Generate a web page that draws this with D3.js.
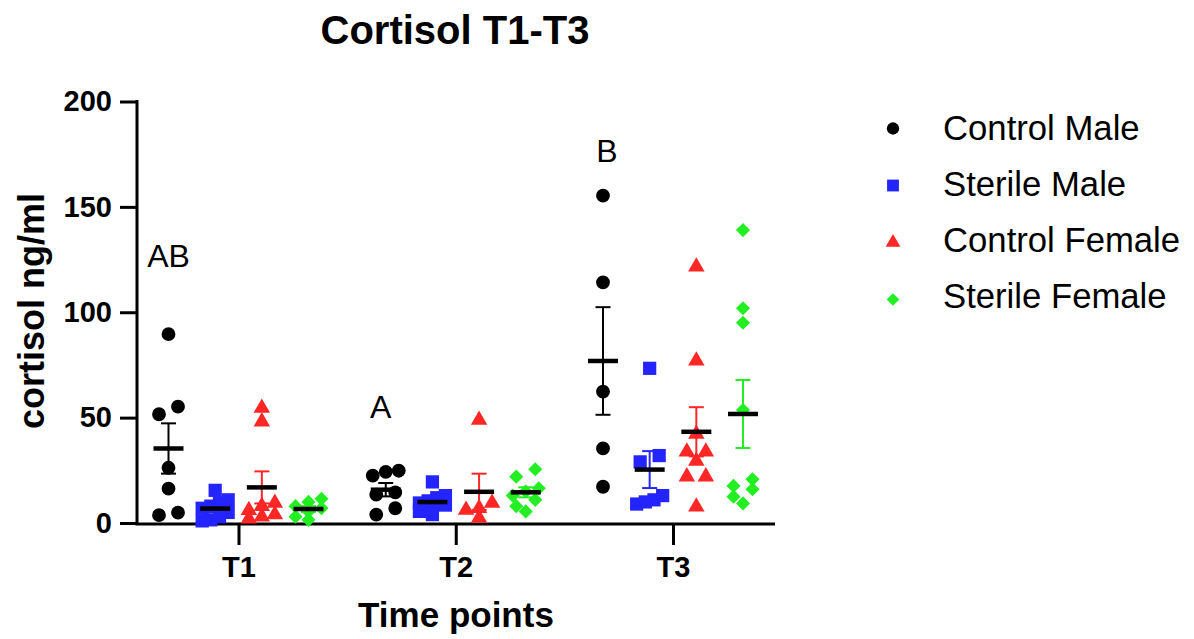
<!DOCTYPE html>
<html>
<head>
<meta charset="utf-8">
<script src="https://cdn.jsdelivr.net/npm/d3@7"></script>
<style>
  html, body { margin: 0; padding: 0; background: #fff; }
  svg { display: block; }
  text { font-family: "Liberation Sans", Arial, sans-serif; fill: #000; }
</style>
</head>
<body>
<svg id="chart" width="1194" height="639"></svg>
<script>
// ---------------- data ----------------
const timePoints = ["T1", "T2", "T3"];
const seriesNames = ["Control Male", "Sterile Male", "Control Female", "Sterile Female"];
const yTicks = [0, 50, 100, 150, 200];

// values per time point (T1, T2, T3), cortisol ng/ml
const controlMale = [
  [89.6, 55.2, 51.6, 26.2, 16.3, 4.9, 3.7],
  [24.8, 24.3, 22.5, 14.5, 13.5, 7, 4],
  [155.3, 114.2, 62.3, 35.4, 17.2]
];
const sterileMale = [
  [15.5, 11, 9.5, 8, 7, 5, 3, 1.5, 1],
  [19.5, 13, 12, 10.5, 9.5, 8.5, 7, 5.5, 4],
  [73.4, 32, 29, 13, 11, 10, 9]
];
const controlFemale = [
  [54.6, 48.1, 9.5, 8, 6, 4, 3, 2],
  [48.9, 9.5, 7, 6.2, 2.4],
  [121.6, 77, 42.2, 33.8, 33.8, 29.4, 22, 22, 7.7]
];
const sterileFemale = [
  [11.5, 10, 8, 7, 5.5, 3, 1.5],
  [25.5, 22, 16.5, 15, 13, 11, 8, 5.5],
  [139, 101.9, 95, 53.6, 20.7, 17.6, 16, 12.5, 9.3]
];
const annotationLabels = ["AB", "A", "B"];
const annotationValues = [121.5, 49.8, 171.3];

// ---------------- styles ----------------
const seriesColors = ["#000000", "#2424ff", "#ff2626", "#22ee22"];
const seriesSymbols = [d3.symbolCircle, d3.symbolSquare, d3.symbolTriangle, d3.symbolSquare];
const seriesSizes = [150, 175, 118, 100];
const seriesRotate = [0, 0, 0, 45];
const allSeries = [controlMale, sterileMale, controlFemale, sterileFemale];

const svg = d3.select("#chart");
svg.append("rect").attr("width", 1194).attr("height", 639).attr("fill", "#fff");

const y = d3.scaleLinear().domain([0, 200]).range([523, 101.5]);
const x = d3.scalePoint().domain(timePoints).range([238.5, 673]);
const xs = d3.scalePoint().domain(seriesNames).range([-70, 70]);

// ---------- axes ----------
const yAxis = svg.append("g")
  .attr("transform", "translate(137,0)")
  .call(d3.axisLeft(y).tickValues(yTicks).tickSize(17).tickPadding(8).tickFormat(d3.format("d")));
yAxis.select(".domain").remove();
yAxis.selectAll(".tick line").attr("stroke", "#000").attr("stroke-width", 3);
yAxis.selectAll(".tick text")
  .attr("font-family", '"Liberation Sans", Arial, sans-serif')
  .attr("font-weight", "bold").attr("font-size", 29).attr("fill", "#000");

svg.append("line").attr("x1", 137).attr("x2", 137).attr("y1", 100).attr("y2", 524.5)
  .attr("stroke", "#000").attr("stroke-width", 3);

const xAxis = svg.append("g")
  .attr("transform", "translate(0,524)")
  .call(d3.axisBottom(x).tickSize(21).tickPadding(11));
xAxis.select(".domain").remove();
xAxis.selectAll(".tick line").attr("stroke", "#000").attr("stroke-width", 3);
xAxis.selectAll(".tick text")
  .attr("font-family", '"Liberation Sans", Arial, sans-serif')
  .attr("font-weight", "bold").attr("font-size", 29).attr("fill", "#000");

svg.append("line").attr("x1", 135.5).attr("x2", 775).attr("y1", 524).attr("y2", 524)
  .attr("stroke", "#000").attr("stroke-width", 3);

// ---------- titles ----------
svg.append("text").attr("x", 455).attr("y", 44).attr("text-anchor", "middle")
  .attr("font-weight", "bold").attr("font-size", 40).text("Cortisol T1-T3");
svg.append("text").attr("x", 456).attr("y", 627).attr("text-anchor", "middle")
  .attr("font-weight", "bold").attr("font-size", 35).text("Time points");
svg.append("text").attr("transform", "translate(44,311) rotate(-90)").attr("text-anchor", "middle")
  .attr("font-weight", "bold").attr("font-size", 36).text("cortisol ng/ml");

// ---------- point layout (row-based scatter like GraphPad) ----------
function layout(values) {
  const pts = values.map(v => ({ v, py: y(v) })).sort((a, b) => a.py - b.py);
  const rows = [];
  let cur = null;
  pts.forEach(p => {
    if (!cur || p.py - cur[0].py >= 9) { cur = [p]; rows.push(cur); }
    else cur.push(p);
  });
  rows.forEach(row => {
    row.sort((a, b) => a.v - b.v);
    const n = row.length;
    const sp = n > 1 ? Math.min(19, 26 / (n - 1)) : 0;
    row.forEach((p, i) => { p.dx = (i - (n - 1) / 2) * sp; });
  });
  return pts;
}

const plot = svg.append("g");
allSeries.forEach((series, si) => {
  const sym = d3.symbol().type(seriesSymbols[si]).size(seriesSizes[si]);
  series.forEach((vals, ti) => {
    const cx = x(timePoints[ti]) + xs(seriesNames[si]);
    const pts = layout(vals);
    plot.append("g").selectAll("path").data(pts).join("path")
      .attr("d", sym)
      .attr("transform", d => `translate(${cx + d.dx},${d.py}) rotate(${seriesRotate[si]})`)
      .attr("fill", seriesColors[si]);
  });
});

// ---------- mean and SEM ----------
const bars = svg.append("g");
allSeries.forEach((series, si) => {
  series.forEach((vals, ti) => {
    const cx = x(timePoints[ti]) + xs(seriesNames[si]);
    const m = d3.mean(vals);
    const sem = d3.deviation(vals) / Math.sqrt(vals.length);
    const col = seriesColors[si];
    bars.append("line").attr("x1", cx).attr("x2", cx).attr("y1", y(m + sem)).attr("y2", y(m - sem))
      .attr("stroke", col).attr("stroke-width", 2);
    [m + sem, m - sem].forEach(v => {
      bars.append("line").attr("x1", cx - 7.5).attr("x2", cx + 7.5).attr("y1", y(v)).attr("y2", y(v))
        .attr("stroke", col).attr("stroke-width", 2);
    });
    bars.append("line").attr("x1", cx - 15).attr("x2", cx + 15).attr("y1", y(m)).attr("y2", y(m))
      .attr("stroke", "#000").attr("stroke-width", 4.5);
  });
});

// ---------- annotations ----------
annotationLabels.forEach((lab, i) => {
  svg.append("text").attr("x", x(timePoints[i]) + xs(seriesNames[0]) + (i === 1 ? -5 : (i === 2 ? 4 : 0)))
    .attr("y", y(annotationValues[i])).attr("text-anchor", "middle")
    .attr("font-size", 32).text(lab);
});

// ---------- legend ----------
const legend = svg.append("g");
seriesNames.forEach((name, i) => {
  const by = 139.5 + i * 56.2;
  const sym = d3.symbol().type(seriesSymbols[i]).size(seriesSizes[i] * 0.8);
  legend.append("path").attr("d", sym)
    .attr("transform", `translate(893,${by - 11 + i * 0.8}) rotate(${seriesRotate[i]})`)
    .attr("fill", seriesColors[i]);
  legend.append("text").attr("x", 943).attr("y", by).attr("font-size", 34.7).text(name);
});
</script>
</body>
</html>
